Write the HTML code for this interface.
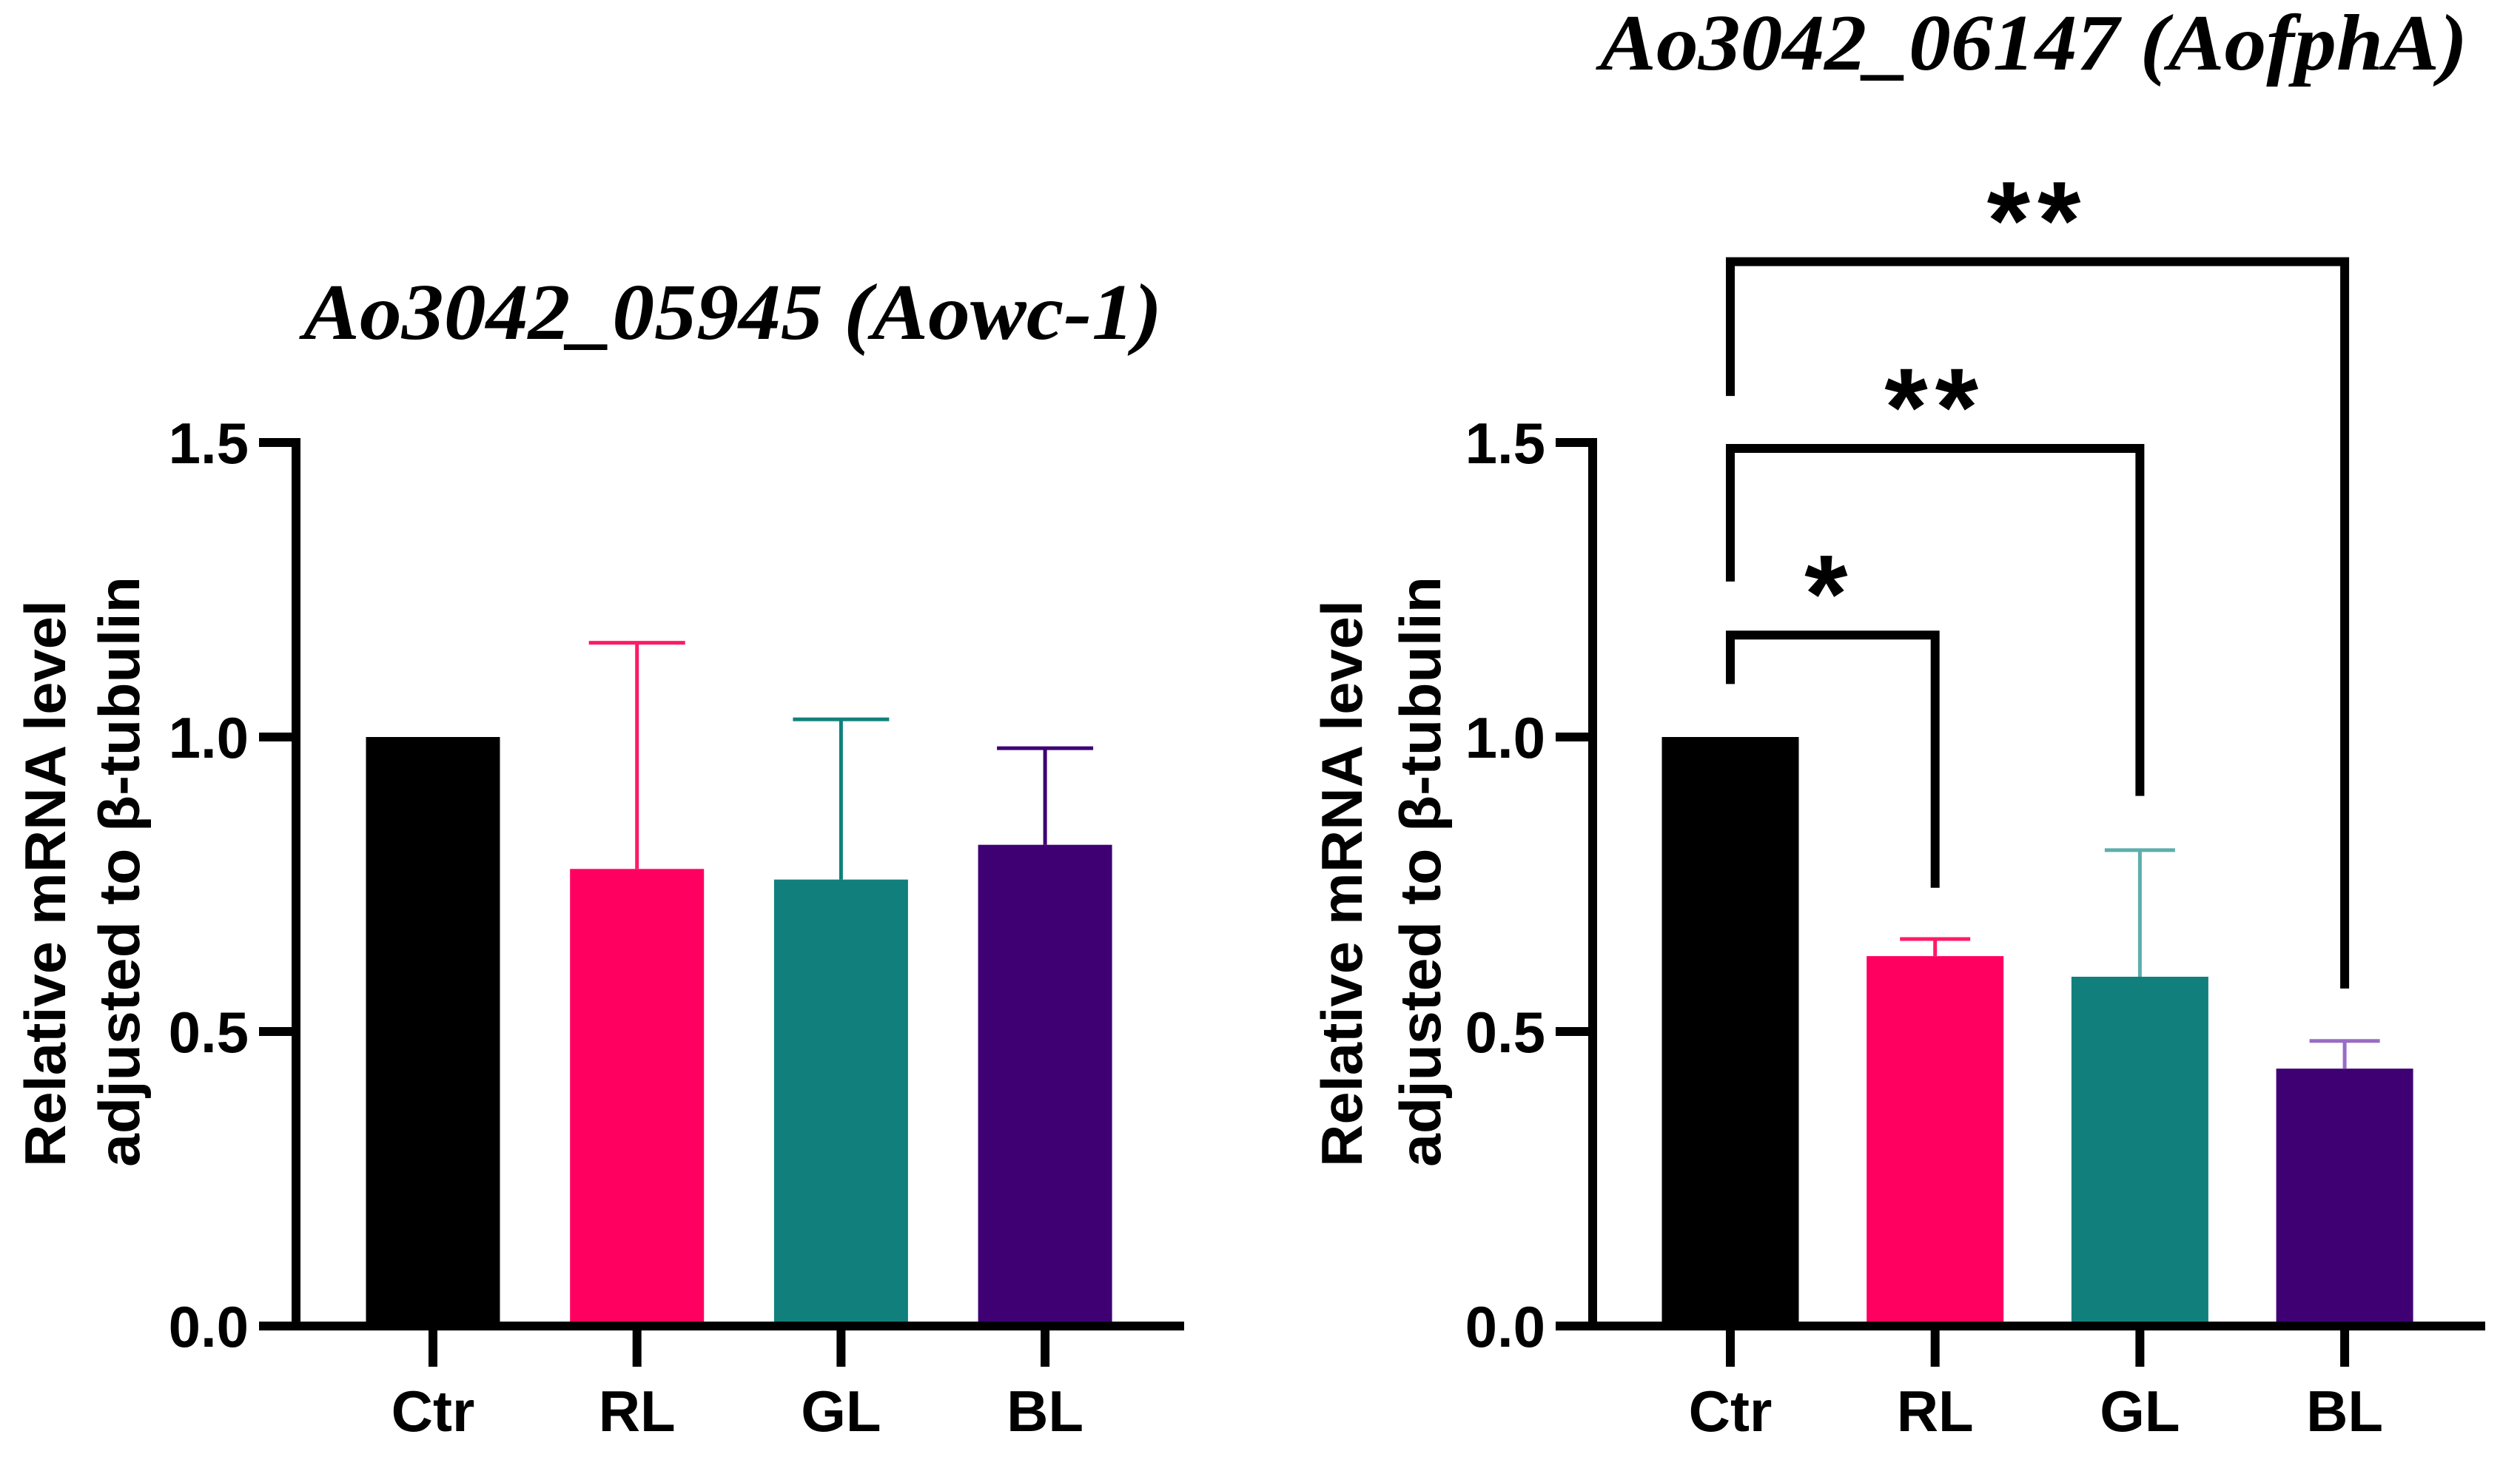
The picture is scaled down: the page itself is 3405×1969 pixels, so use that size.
<!DOCTYPE html>
<html><head><meta charset="utf-8"><style>
html,body{margin:0;padding:0;background:#fff;}
svg{display:block;}
text{font-family:"Liberation Sans",sans-serif;font-weight:bold;fill:#000;}
.title{font-family:"Liberation Serif",serif;font-style:italic;font-weight:bold;}
</style></head><body>
<svg id="fig" width="3405" height="1969" viewBox="0 0 3405 1969" xmlns="http://www.w3.org/2000/svg"></svg>
<script>
const categories = ["Ctr","RL","GL","BL"];
const leftValues = [1.0, 0.776, 0.758, 0.817];
const leftErrors = [1.0, 1.16, 1.03, 0.981];
const rightValues = [1.0, 0.628, 0.593, 0.437];
const rightErrors = [1.0, 0.657, 0.808, 0.484];
const yTicks = [0, 0.5, 1.0, 1.5];
const yTickLabels = ["0.0","0.5","1.0","1.5"];
const sigLabels = ["*","**","**"];
const sigTargets = [1, 2, 3];
const sigTops = [1.173, 1.49, 1.807];
const sigLeftEnds = [1.09, 1.264, 1.579];
const sigRightEnds = [0.744, 0.90, 0.573];

const svg = document.getElementById('fig');
const NS = 'http://www.w3.org/2000/svg';
function mk(tag, attrs, parent){
  const e = document.createElementNS(NS, tag);
  for (const k in attrs) e.setAttribute(k, attrs[k]);
  (parent||svg).appendChild(e);
  return e;
}
const barColors = ["#000000","#ff0060","#11807c","#3e0073"];
const errColorsL = ["#000000","#ff1a66","#11807c","#3e0073"];
const errColorsR = ["#000000","#ff1a66","#5eaeac","#9a6cc4"];

function yScale(v){ return 1792 - v*796; }

function drawChart(cfg){
  const g = mk('g', {});
  
  
  const x = i => cfg.x0 + i*cfg.step;
  cfg.values.forEach((v,i)=>{
    const r = mk('rect', {x: x(i)-cfg.bw/2, y: yScale(v), width: cfg.bw, height: yScale(0)-yScale(v), fill: barColors[i]}, g);
    
    
    if (cfg.errors[i] > v + 0.001){
      const eb = mk('g', {stroke: cfg.errColors[i], 'stroke-width': 5}, g);
      
      
      mk('line', {x1: x(i), x2: x(i), y1: yScale(v), y2: yScale(cfg.errors[i])}, eb);
      mk('line', {x1: x(i)-cfg.cap/2, x2: x(i)+cfg.cap/2, y1: yScale(cfg.errors[i]), y2: yScale(cfg.errors[i])}, eb);
    }
  });
  const ya = mk('line', {x1: cfg.ax, x2: cfg.ax, y1: yScale(1.5)-6, y2: yScale(0)+6, stroke:'#000','stroke-width':12}, g);
   
  const xa = mk('line', {x1: cfg.ax-6, x2: cfg.xEnd, y1: yScale(0), y2: yScale(0), stroke:'#000','stroke-width':12}, g);
   
  yTicks.forEach((t,i)=>{
    mk('line', {x1: cfg.ax-50, x2: cfg.ax, y1: yScale(t), y2: yScale(t), stroke:'#000','stroke-width':12}, g);
    const tl = mk('text', {x: cfg.ax-64, y: yScale(t)+28, 'text-anchor':'end','font-size':78}, g);
    tl.textContent = yTickLabels[i];
     
  });
  categories.forEach((c,i)=>{
    mk('line', {x1: x(i), x2: x(i), y1: yScale(0), y2: yScale(0)+55, stroke:'#000','stroke-width':12}, g);
    const tl = mk('text', {x: x(i), y: 1934, 'text-anchor':'middle','font-size':78}, g);
    tl.textContent = c;
     
  });
  const yt = mk('text', {transform:`translate(${cfg.ytx1},1577) rotate(-90)`, 'font-size':78, textLength:766, lengthAdjust:'spacingAndGlyphs'}, g);
  yt.textContent = 'Relative mRNA level';
   
  const yt2 = mk('text', {transform:`translate(${cfg.ytx2},1577) rotate(-90)`, 'font-size':78, textLength:798, lengthAdjust:'spacingAndGlyphs'}, g);
  yt2.textContent = 'adjusted to β-tubulin';
   
  const tt = mk('text', {x: cfg.tx, y: cfg.ty, class:'title', 'font-size':108, textLength: cfg.tw, lengthAdjust:'spacingAndGlyphs'}, g);
  tt.textContent = cfg.title;
   
  return {g, x};
}

drawChart({name:'chart-aowc1', x0:585, step:275.7, bw:181, cap:130, ax:400, xEnd:1600,
  values:leftValues, errors:leftErrors, errColors:errColorsL,
  ytx1:88, ytx2:188, tx:410, ty:458, tw:1160, title:'Ao3042_05945 (Aowc-1)'});
const R = drawChart({name:'chart-aofpha', x0:2338, step:276.7, bw:185, cap:95, ax:2152, xEnd:3358,
  values:rightValues, errors:rightErrors, errColors:errColorsR,
  ytx1:1840, ytx2:1946, tx:2162, ty:94, tw:1172, title:'Ao3042_06147 (AofphA)'});

sigLabels.forEach((s,k)=>{
  const b = mk('g', {}, R.g);
  
  
  const xl = R.x(0), xr = R.x(sigTargets[k]);
  mk('polyline', {points:`${xl},${yScale(sigLeftEnds[k])} ${xl},${yScale(sigTops[k])} ${xr},${yScale(sigTops[k])} ${xr},${yScale(sigRightEnds[k])}`,
    fill:'none', stroke:'#000','stroke-width':12}, b);
  const t = mk('text', {x: (xl+xr)/2 + (k===0?-4:0), y: yScale(sigTops[k]) - 4, 'text-anchor':'middle','font-size':150,'letter-spacing':10}, b);
  t.textContent = s;
  
  
});
</script>
</body></html>
